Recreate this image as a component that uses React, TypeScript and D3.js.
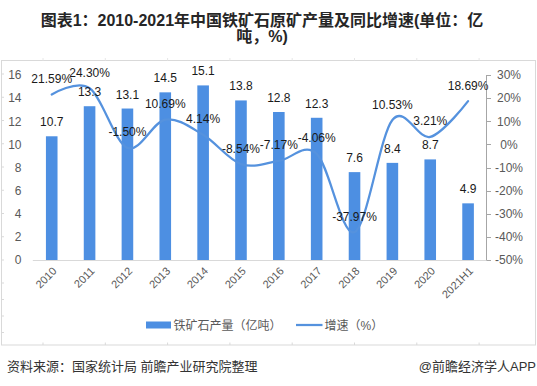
import React from "react";
import * as d3 from "d3";

const categories = ["2010","2011","2012","2013","2014","2015","2016","2017","2018","2019","2020","2021H1"];
const output = [10.7, 13.3, 13.1, 14.5, 15.1, 13.8, 12.8, 12.3, 7.6, 8.4, 8.7, 4.9];
const growth = [21.59, 24.30, -1.50, 10.69, 4.14, -8.54, -7.17, -4.06, -37.97, 10.53, 3.21, 18.69];
const leftTicks = [0, 2, 4, 6, 8, 10, 12, 14, 16];
const rightTicks = [-50, -40, -30, -20, -10, 0, 10, 20, 30];
const titleLines = ["图表1：2010-2021年中国铁矿石原矿产量及同比增速(单位：亿", "吨，%)"];
const legendLabels = ["铁矿石产量（亿吨）", "增速（%）"];
const sourceText = "资料来源：国家统计局 前瞻产业研究院整理";
const brandText = "@前瞻经济学人APP";

const W = 537, H = 386;
const BAR = "#4d8fe2";
const LINE = "#5592de";
const FONT = "'Liberation Sans', Arial, 'Noto Sans CJK SC', sans-serif";

export default function App() {
  const x = d3.scaleBand<string>().domain(categories).range([32.8, 487]).paddingInner(0).paddingOuter(0);
  const yL = d3.scaleLinear().domain([0, 16]).range([260, 75]);
  const yR = d3.scaleLinear().domain([-50, 30]).range([260, 75]);
  const bw = 11.6;
  const cx = (c: string) => (x(c) as number) + x.bandwidth() / 2;

  const line = d3.line<number>()
    .x((_, i) => cx(categories[i]))
    .y((d) => yR(d))
    .curve(d3.curveCardinal.tension(0));

  const leftFrameTicks = d3.range(74, 262, 23.25);
  const lowerFrameTicks = d3.range(283, 340, 16.5);
  const bottomFrameTicks = d3.range(43, 535, 62.3);

  return (
    <svg width={W} height={H} style={{ display: "block", position: "absolute", left: 0, top: 0, background: "#fff" }} fontFamily={FONT}>
      <rect x={0} y={0} width={W} height={H} fill="#fff" />
      {/* title */}
      <text textAnchor="middle" fontWeight="bold" fontSize={16} fill="#262626">
        <tspan x={262} y={26}>{titleLines[0]}</tspan>
        <tspan x={262} y={42}>{titleLines[1]}</tspan>
      </text>
      {/* frame */}
      <rect x={1.5} y={60.5} width={534} height={284.5} fill="none" stroke="#d9d9d9" strokeWidth={1} />
      {leftFrameTicks.concat(lowerFrameTicks).map((t, i) => (
        <line key={"lf" + i} x1={1.5} x2={4} y1={t} y2={t} stroke="#d9d9d9" />
      ))}
      {bottomFrameTicks.map((t, i) => (
        <g key={"bf" + i}>
          <line x1={t} x2={t} y1={345} y2={342.5} stroke="#d9d9d9" />
          <line x1={t} x2={t} y1={60.5} y2={58} stroke="#e6e6e6" />
        </g>
      ))}
      {/* bars */}
      {output.map((v, i) => (
        <rect key={"b" + i} x={cx(categories[i]) - bw / 2} y={yL(v)} width={bw} height={yL(0) - yL(v)} fill={BAR} />
      ))}
      {/* x axis baseline */}
      <line x1={32.8} x2={487} y1={260.5} y2={260.5} stroke="#d9d9d9" strokeWidth={1} />
      {/* right axis */}
      <line x1={486.5} x2={486.5} y1={yR(30)} y2={yR(-50)} stroke="#a6a6a6" />
      {rightTicks.map((t) => (
        <g key={"rt" + t}>
          <line x1={486.5} x2={491} y1={Math.round(yR(t)) + 0.5} y2={Math.round(yR(t)) + 0.5} stroke="#a6a6a6" />
          <text x={509} y={yR(t) + 4.3} fontSize={12} fill="#595959" textAnchor="middle">{t + "%"}</text>
        </g>
      ))}
      {/* left axis labels */}
      {leftTicks.map((t) => (
        <text key={"lt" + t} x={21.5} y={yL(t) + 4.3} fontSize={12} fill="#595959" textAnchor="end">{t}</text>
      ))}
      {/* x labels */}
      {categories.map((c) => (
        <text key={"xl" + c} transform={`translate(${cx(c) + 3},${269}) rotate(-45)`} fontSize={11} fill="#595959" textAnchor="end" dy="0.35em">{c}</text>
      ))}
      {/* line */}
      <path d={line(growth) || ""} fill="none" stroke={LINE} strokeWidth={2.25} strokeLinecap="round" />
      {/* bar labels */}
      {output.map((v, i) => (
        <text key={"bl" + i} x={cx(categories[i])} y={yL(v) - 10} fontSize={12} fill="#1a1a1a" textAnchor="middle">{v.toFixed(1)}</text>
      ))}
      {/* growth labels */}
      {growth.map((v, i) => (
        <text key={"gl" + i} x={cx(categories[i])} y={yR(v) - 11.5} fontSize={12} fill="#1a1a1a" textAnchor="middle">{v.toFixed(2) + "%"}</text>
      ))}
      {/* legend */}
      <rect x={146} y={321.5} width={25} height={7} fill={BAR} />
      <text x={173.5} y={329.5} fontSize={12} fill="#595959">{legendLabels[0]}</text>
      <line x1={296} x2={322.5} y1={325} y2={325} stroke={LINE} strokeWidth={2.25} />
      <text x={324.5} y={329.5} fontSize={12} fill="#595959">{legendLabels[1]}</text>
      {/* footer */}
      <text x={7} y={370.5} fontSize={13} fill="#333">{sourceText}</text>
      <text x={536} y={370.5} fontSize={13} fill="#333" textAnchor="end">{brandText}</text>
    </svg>
  );
}
